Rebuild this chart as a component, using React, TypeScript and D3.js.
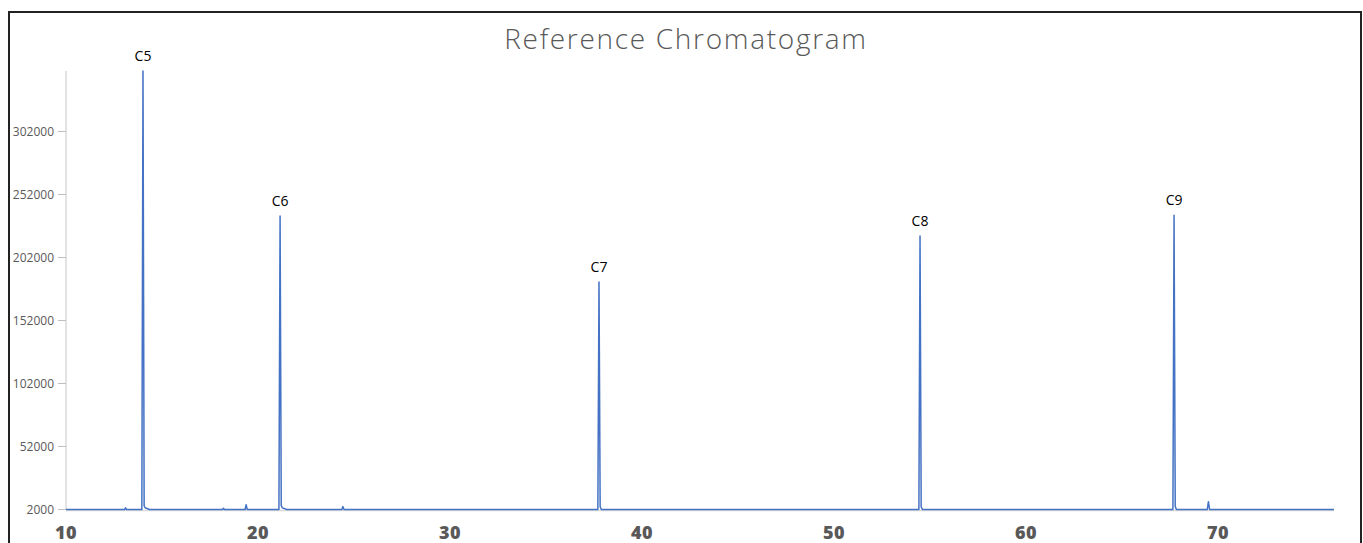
import { scaleLinear, line as d3line } from "d3";

// retention time (min) and detector signal
const times = [
  10, 13.05, 13.1, 13.15, 13.95, 14.01, 14.07, 14.12, 14.35,
  18.15, 18.2, 18.25, 19.33, 19.38, 19.44, 21.09, 21.15, 21.21, 21.27, 21.5,
  24.37, 24.42, 24.48, 37.7, 37.76, 37.82, 37.88, 54.42, 54.48, 54.54, 54.6,
  67.65, 67.71, 67.77, 67.83, 69.44, 69.5, 69.56, 76.04,
];
const signal = [
  2000, 2000, 3300, 2000, 2000, 350000, 5000, 3400, 2000,
  2000, 3000, 2000, 2000, 5800, 2000, 2000, 235000, 5000, 3300, 2000,
  2000, 4300, 2000, 2000, 182500, 4200, 2000, 2000, 219000, 4200, 2000,
  2000, 235500, 4500, 2000, 2000, 8200, 2000, 2000,
];

const peakNames = ["C5", "C6", "C7", "C8", "C9"];
const peakTimes = [14.01, 21.15, 37.76, 54.48, 67.71];
const peakHeights = [350000, 235000, 182500, 219000, 235500];

const yTicks = [2000, 52000, 102000, 152000, 202000, 252000, 302000];
const xTicks = [10, 20, 30, 40, 50, 60, 70];

const W = 1363;
const H = 543;
const left = 66;
const right = 1334;
const top = 71;
const bottom = 509.5;

export default function App() {
  const x = scaleLinear().domain([10, 76.04]).range([left, right]);
  const y = scaleLinear().domain([2000, 350000]).range([bottom, top]);

  const pts = times.map((t, i) => [t, signal[i]] as [number, number]);
  const path = d3line<[number, number]>()
    .x((d) => x(d[0]))
    .y((d) => y(d[1]))(pts) ?? "";

  return (
    <svg
      width={W}
      height={H}
      style={{ position: "absolute", left: 0, top: 0, background: "#fff" }}
    >
      <rect x={9} y={12} width={1352} height={560} fill="#fff" stroke="#222" strokeWidth={2} />

      <text
        x={686}
        y={49}
        textAnchor="middle"
        fontFamily="'Open Sans', sans-serif"
        fontWeight={300}
        fontSize={28}
        letterSpacing={1.7}
        fill="#595959"
      >
        Reference Chromatogram
      </text>

      {/* y axis */}
      <line x1={left} x2={left} y1={top} y2={bottom} stroke="#d9d9d9" strokeWidth={1.5} />
      <line x1={left} x2={right} y1={bottom + 1} y2={bottom + 1} stroke="#d9d9d9" strokeWidth={1.5} />
      {yTicks.map((v) => (
        <g key={v}>
          <line x1={left - 8} x2={left} y1={y(v)} y2={y(v)} stroke="#bfbfbf" />
          <text
            x={left - 12}
            y={y(v)}
            dy="0.35em"
            textAnchor="end"
            fontFamily="'Open Sans', sans-serif"
            fontSize={12}
            fill="#595959"
          >
            {v}
          </text>
        </g>
      ))}

      {/* x axis */}
      {xTicks.map((v) => (
        <text
          key={v}
          x={x(v)}
          y={539}
          textAnchor="middle"
          fontFamily="'Open Sans', sans-serif"
          fontWeight={800}
          fontSize={18}
          letterSpacing={0.5}
          fill="#595959"
        >
          {v}
        </text>
      ))}

      <path d={path} fill="none" stroke="#4472c4" strokeWidth={1.5} strokeLinejoin="round" />

      {peakNames.map((n, i) => (
        <text
          key={n}
          x={x(peakTimes[i])}
          y={y(peakHeights[i]) - 10}
          textAnchor="middle"
          fontFamily="'Open Sans', sans-serif"
          fontSize={14}
          fill="#000"
        >
          {n}
        </text>
      ))}
    </svg>
  );
}
